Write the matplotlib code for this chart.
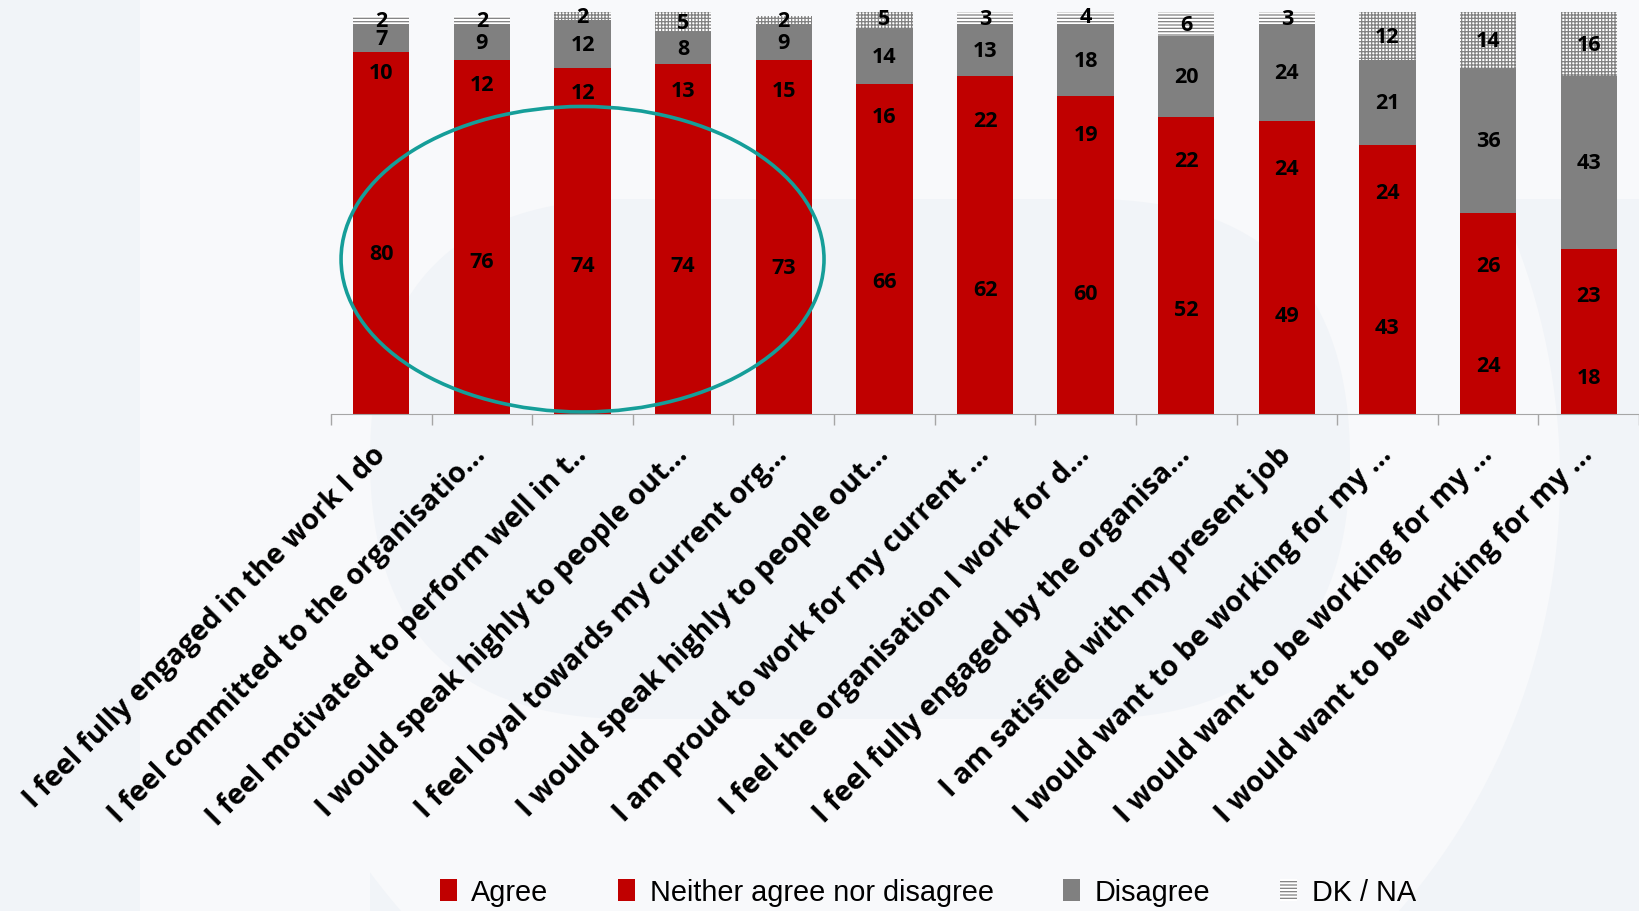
import numpy as np
import matplotlib.pyplot as plt
from matplotlib.patches import Ellipse, Circle, FancyBboxPatch, Rectangle

# data
labels = [
    "I feel fully engaged in the work I do",
    "I feel committed to the organisatio...",
    "I feel motivated to perform well in t..",
    "I would speak highly to people out...",
    "I feel loyal towards my current org...",
    "I would speak highly to people out...",
    "I am proud to work for my current ...",
    "I feel the organisation I work for d...",
    "I feel fully engaged by the organisa...",
    "I am satisfied with my present job",
    "I would want to be working for my ...",
    "I would want to be working for my ...",
    "I would want to be working for my ...",
]
agree = [80, 76, 74, 74, 73, 66, 62, 60, 52, 49, 43, 24, 18]
neither = [10, 12, 12, 13, 15, 16, 22, 19, 22, 24, 24, 26, 23]
disagree = [7, 9, 12, 8, 9, 14, 13, 18, 20, 24, 21, 36, 43]
dk_na = [2, 2, 2, 5, 2, 5, 3, 4, 6, 3, 12, 14, 16]
highlight = [0, 1, 2, 3, 4]

RED = "#C00000"
GRAY = "#808080"
dk_hatch = ["-----", "-----", "+++++", "+++++", "+++++", "+++++", "-----",
            "-----", "-----", "-----", "+++++", "+++++", "+++++"]

plt.rcParams["hatch.color"] = GRAY
plt.rcParams["hatch.linewidth"] = 0.9

fig = plt.figure(figsize=(16.39, 9.12), dpi=100, facecolor="#f1f4f8")

# faint watermark in background
bg = fig.add_axes([0, 0, 1, 1], zorder=-10)
bg.set_xlim(0, 1639)
bg.set_ylim(912, 0)
bg.axis("off")
bg.add_patch(Rectangle((140, 0), 1499, 200, color="#f8f9fb", lw=0))
bg.add_patch(Circle((900, 480), 660, color="#f8f9fb", lw=0))
bg.add_patch(Rectangle((140, 0), 230, 912, color="#f8f9fb", lw=0))
bg.add_patch(FancyBboxPatch((370, 200), 980, 520, boxstyle="round,pad=0,rounding_size=260",
                            color="#f1f4f8", lw=0))

ax = fig.add_axes([331 / 1639, (912 - 415) / 912, 1 - 331 / 1639, (415 - 13) / 912])
ax.set_facecolor("none")

x = np.arange(len(labels))
w = 0.56
b1 = np.array(agree)
b2 = b1 + np.array(neither)
b3 = b2 + np.array(disagree)

ax.bar(x, agree, w, color=RED, label="Agree")
ax.bar(x, neither, w, bottom=b1, color=RED, label="Neither agree nor disagree")
ax.bar(x, disagree, w, bottom=b2, color=GRAY, label="Disagree")
dkb = ax.bar(x, dk_na, w, bottom=b3, color="white", edgecolor=GRAY, lw=0, label="DK / NA")
for bar, h in zip(dkb, dk_hatch):
    bar.set_hatch(h)

for vals, bottoms in [(agree, np.zeros(len(x))), (neither, b1), (disagree, b2), (dk_na, b3)]:
    for xi, v, b in zip(x, vals, bottoms):
        ax.text(xi, b + v / 2, str(v), ha="center", va="center",
                fontsize=15.5, fontweight="bold", family="Open Sans", color="black")

hx = np.mean(highlight)
ax.add_patch(Ellipse((hx, 38.5), 4.8, 76, fill=False, edgecolor="#159e99", lw=2.6, zorder=5))

ax.set_xlim(-0.5, len(labels) - 0.5)
ax.set_ylim(0, 100)
for s in ["left", "right", "top"]:
    ax.spines[s].set_visible(False)
ax.spines["bottom"].set_color("#a6a6a6")
ax.set_yticks([])
ax.set_xticks(x)
ax.set_xticks(np.arange(-0.5, len(labels), 1), minor=True)
ax.tick_params(axis="x", which="major", length=0, pad=26)
ax.tick_params(axis="x", which="minor", length=8, color="#a6a6a6", width=1)
ax.set_xticklabels(labels, rotation=45, ha="right", va="center", rotation_mode="anchor",
                   fontsize=20.5, fontweight="bold", family="Open Sans")

leg = fig.legend(loc="center", bbox_to_anchor=(0.566, 0.021), ncol=4, frameon=False,
                 prop={"family": "Liberation Sans", "size": 20.8},
                 handlelength=0.6, handleheight=0.8, handletextpad=0.5, columnspacing=2.4)

fig.savefig("out.png", dpi=100, facecolor=fig.get_facecolor())
